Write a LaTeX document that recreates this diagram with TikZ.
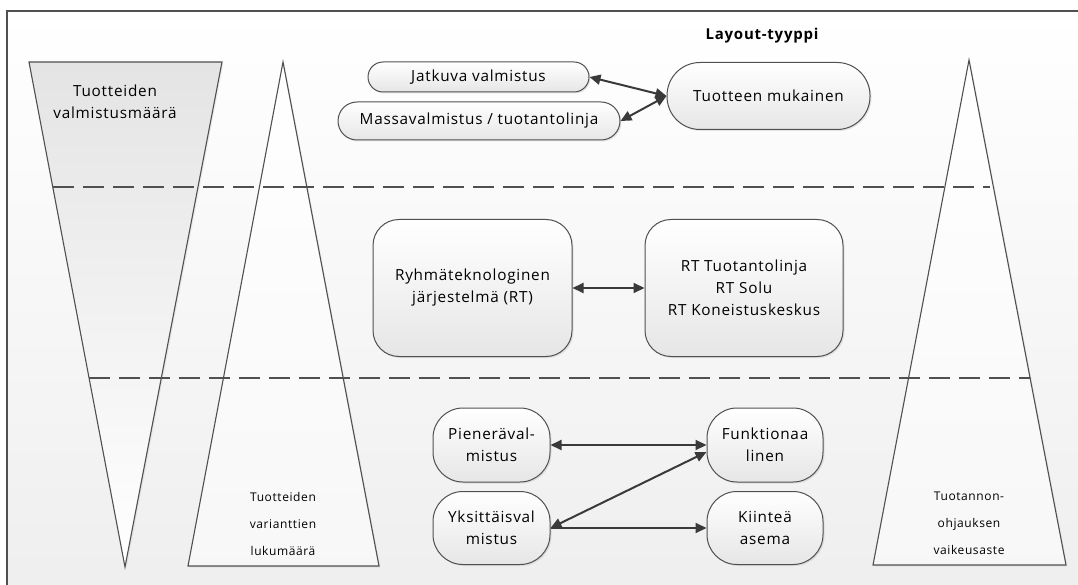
\documentclass[tikz,border=0pt]{standalone}
\usepackage{fontspec}
\setmainfont[LetterSpace=5]{Open Sans}
\usetikzlibrary{arrows.meta,shadows}
\definecolor{edge}{HTML}{505050}
\definecolor{wire}{HTML}{3A3A3A}
\definecolor{boxlo}{HTML}{E6E6E6}
\definecolor{paperlo}{HTML}{EEEEEE}
\definecolor{conetop}{HTML}{E4E4E4}
\begin{document}
\begin{tikzpicture}[x=1pt,y=-1pt,
  txt/.style={font=\fontsize{15.3}{22}\selectfont},
  small/.style={font=\fontsize{12}{27}\selectfont, align=center},
  box/.style={draw=edge, line width=1pt, top color=white, bottom color=boxlo,
    align=center, txt, inner sep=0pt,
    drop shadow={opacity=0.18, shadow xshift=1.5pt, shadow yshift=-1.5pt}},
  cone/.style={draw=edge, line width=1.1pt,
    drop shadow={opacity=0.12, shadow xshift=1.5pt, shadow yshift=-1.5pt}},
  link/.style={draw=wire, line width=2pt, {Triangle[length=11pt,width=10pt]}-{Triangle[length=11pt,width=10pt]}},
  onelink/.style={draw=wire, line width=2pt, -{Triangle[length=11pt,width=10pt]}},
  band/.style={draw=edge, line width=2pt, dash pattern=on 21pt off 9pt},
]
\useasboundingbox (0,0) rectangle (1078,585);
\clip (0,0) rectangle (1078,585);

% outer panel (its right and bottom sides lie outside the page)
\draw[draw=edge, line width=1.3pt, top color=white, bottom color=paperlo]
  (7,11) rectangle (1100,610);

% the three cones
\path[cone, top color=conetop, bottom color=white] (29,62) -- (222,62) -- (125,567) -- cycle;
\path[cone, top color=white, bottom color=white!97!black] (283,62) -- (379,566) -- (188,566) -- cycle;
\path[cone, top color=white, bottom color=white!97!black] (969,60) -- (1066,565) -- (873,565) -- cycle;

% band separators
\draw[band] (53,187) -- (990,187);
\draw[band] (89,378) -- (1030,378);

% cone labels
\node[txt, align=center] (vm) at (115,102) {Tuotteiden\\valmistusmäärä};
\node[small] (var) at (283,524) {Tuotteiden\\varianttien\\lukumäärä};
\node[small] (ohj) at (969,523) {Tuotannon-\\ohjauksen\\vaikeusaste};

% heading
\node[font=\fontsize{15}{18}\selectfont\bfseries] (head) at (762,36) {Layout-tyyppi};

% top band
\node[box, minimum width=221pt, minimum height=30pt, rounded corners=15pt] (jat) at (478.5,77) {Jatkuva valmistus};
\node[box, minimum width=282pt, minimum height=38pt, rounded corners=19pt] (massa) at (479,121) {Massavalmistus / tuotantolinja};
\node[box, minimum width=203pt, minimum height=67pt, rounded corners=33pt] (tuot) at (768.5,96) {Tuotteen mukainen};
\draw[link] (jat.east) -- (tuot.west);
\draw[link] (massa.east) -- (tuot.west);

% middle band
\node[box, minimum width=199pt, minimum height=137pt, rounded corners=26pt] (ryhma) at (472.5,288) {Ryhmäteknologinen\\järjestelmä (RT)};
\node[box, minimum width=198pt, minimum height=137pt, rounded corners=26pt] (rt) at (744,288) {RT Tuotantolinja\\RT Solu\\RT Koneistuskeskus};
\draw[link] (ryhma.east) -- (rt.west);

% bottom band
\node[box, minimum width=117pt, minimum height=74pt, rounded corners=30pt] (piene) at (491.5,445) {Pieneräval-\\mistus};
\node[box, minimum width=117pt, minimum height=73pt, rounded corners=30pt] (yks) at (491.5,528) {Yksittäisval\\mistus};
\node[box, minimum width=116pt, minimum height=74pt, rounded corners=30pt] (funk) at (765,445) {Funktionaa\\linen};
\node[box, minimum width=116pt, minimum height=73pt, rounded corners=30pt] (kiin) at (765,528) {Kiinteä\\asema};
\draw[link] (piene.east) -- (funk.west);
\draw[link] (yks.east) -- ([yshift=-7pt]funk.west);
\draw[onelink] (yks.east) -- (kiin.west);
\end{tikzpicture}
\end{document}
